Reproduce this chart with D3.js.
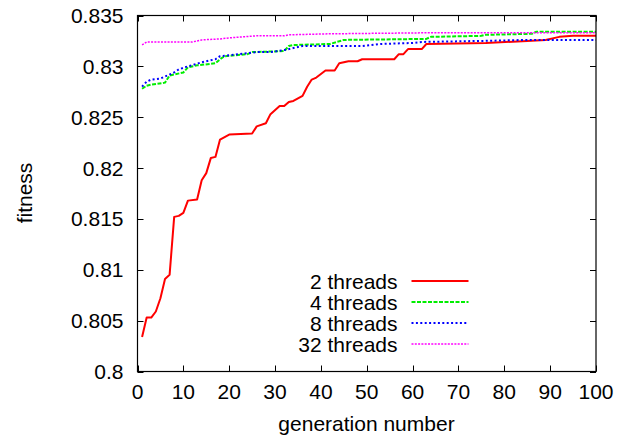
<!DOCTYPE html>
<html>
<head>
<meta charset="utf-8">
<script src="https://cdn.jsdelivr.net/npm/d3@7"></script>
<style>
body { margin: 0; background: #fff; }
svg text { font-family: "Liberation Sans", Arial, sans-serif; font-size: 21px; fill: #000; }
</style>
</head>
<body>
<svg width="620" height="442"></svg>
<script>
// [generation, fitness] breakpoints
var threads2 = [[1,0.8034],[2,0.8053],[3,0.8053],[4,0.8059],[5,0.8072],[6,0.8091],[7,0.8095],[8,0.8152],[9,0.8153],[10,0.8156],[11,0.8168],[13,0.8169],[14,0.8188],[15,0.8195],[16,0.8210],[17,0.8211],[18,0.8228],[20,0.8233],[25,0.8234],[26,0.8241],[28,0.8244],[29,0.8253],[31,0.8261],[32,0.8261],[33,0.8265],[34,0.8266],[36,0.8271],[37,0.8280],[38,0.8287],[39,0.8289],[41,0.8296],[43,0.8296],[44,0.8303],[46,0.8305],[48,0.8305],[49,0.8307],[56,0.8307],[57,0.8312],[58,0.8312],[59,0.8317],[62,0.8317],[63,0.8322],[76,0.8323],[85,0.8325],[89,0.8326],[92,0.8329],[95,0.8330],[100,0.8330]];
var threads4 = [[1,0.8278],[2,0.8281],[3,0.8282],[6,0.8284],[7,0.8291],[10,0.8294],[11,0.8299],[13,0.8301],[17,0.8303],[18,0.8307],[19,0.8310],[24,0.8312],[25,0.8314],[32,0.8315],[33,0.8320],[34,0.8321],[42,0.8322],[45,0.8326],[63,0.8327],[64,0.8329],[75,0.8330],[76,0.8331],[86,0.8332],[87,0.8334],[100,0.8334]];
var threads8 = [[1,0.8280],[2,0.8285],[3,0.8287],[5,0.8288],[8,0.8294],[9,0.8297],[11,0.8300],[14,0.8304],[17,0.8307],[18,0.8310],[22,0.8312],[26,0.8314],[29,0.8314],[32,0.8316],[34,0.8318],[36,0.8320],[49,0.8320],[53,0.8322],[60,0.8323],[62,0.8324],[75,0.8325],[85,0.8326],[100,0.8326]];
var threads32 = [[1,0.8321],[2,0.8324],[12,0.8324],[14,0.8326],[18,0.8327],[20,0.8328],[26,0.8330],[32,0.8330],[33,0.8331],[42,0.8332],[63,0.8333],[100,0.8333]];

var seriesNames = ["2 threads", "4 threads", "8 threads", "32 threads"];
var xTicks = [0, 10, 20, 30, 40, 50, 60, 70, 80, 90, 100];
var yTicks = [0.8, 0.805, 0.81, 0.815, 0.82, 0.825, 0.83, 0.835];

var styles = [
    { color: "#ff0000", dash: null, width: 2 },
    { color: "#00ee00", dash: "4,1.5", width: 2 },
    { color: "#0000ff", dash: "2,2.4", width: 2 },
    { color: "#ff00ff", dash: "2,1.3", width: 1.5 }
];

var plotLeft = 137.5, plotRight = 596, plotTop = 15.5, plotBottom = 371.5;
var svg = d3.select("svg");

var x = d3.scaleLinear().domain([0, 100]).range([plotLeft, plotRight]);
var y = d3.scaleLinear().domain([0.8, 0.835]).range([plotBottom, plotTop]);

// ticks, mirrored on all sides, pointing inward
var tickLen = 6;
var g = svg.append("g").attr("stroke", "#000").attr("stroke-width", 1);
xTicks.forEach(function (t) {
    var px = Math.round(x(t)) + 0.5;
    g.append("line").attr("x1", px).attr("x2", px).attr("y1", plotBottom).attr("y2", plotBottom - tickLen);
    g.append("line").attr("x1", px).attr("x2", px).attr("y1", plotTop).attr("y2", plotTop + tickLen);
});
yTicks.forEach(function (t) {
    var py = Math.round(y(t)) + 0.5;
    g.append("line").attr("x1", plotLeft).attr("x2", plotLeft + tickLen).attr("y1", py).attr("y2", py);
    g.append("line").attr("x1", plotRight).attr("x2", plotRight - tickLen).attr("y1", py).attr("y2", py);
});

svg.selectAll("text.xt").data(xTicks).enter().append("text")
    .attr("class", "xt")
    .attr("x", function (d) { return x(d); })
    .attr("y", 399)
    .attr("text-anchor", "middle")
    .text(function (d) { return d; });

svg.selectAll("text.yt").data(yTicks).enter().append("text")
    .attr("class", "yt")
    .attr("x", 123.5)
    .attr("y", function (d) { return y(d) + 7.5; })
    .attr("text-anchor", "end")
    .text(function (d) { return d3.format("")(+d.toFixed(3)); });

svg.append("text")
    .attr("x", 366.5).attr("y", 431)
    .attr("text-anchor", "middle")
    .text("generation number");

svg.append("text")
    .attr("transform", "translate(32,193) rotate(-90)")
    .attr("text-anchor", "middle")
    .text("fitness");

// series
var line = d3.line().x(function (d) { return x(d[0]); }).y(function (d) { return y(d[1]); });
var allSeries = [threads2, threads4, threads8, threads32];

svg.selectAll("path.series").data(allSeries).enter().append("path")
    .attr("class", "series")
    .attr("fill", "none")
    .attr("stroke", function (d, i) { return styles[i].color; })
    .attr("stroke-width", function (d, i) { return styles[i].width; })
    .attr("stroke-dasharray", function (d, i) { return styles[i].dash; })
    .attr("stroke-linejoin", "round")
    .attr("d", line);

// legend
var legendY = [281, 302, 323, 344];
var leg = svg.selectAll("g.leg").data(seriesNames).enter().append("g").attr("class", "leg");
leg.append("text")
    .attr("x", 397.5)
    .attr("y", function (d, i) { return legendY[i] + 7.5; })
    .attr("text-anchor", "end")
    .text(function (d) { return d; });
leg.append("line")
    .attr("x1", 411.5).attr("x2", 468.5)
    .attr("y1", function (d, i) { return legendY[i]; })
    .attr("y2", function (d, i) { return legendY[i]; })
    .attr("stroke", function (d, i) { return styles[i].color; })
    .attr("stroke-width", function (d, i) { return styles[i].width; })
    .attr("stroke-dasharray", function (d, i) { return styles[i].dash; });

// frame
svg.append("rect")
    .attr("x", plotLeft).attr("y", plotTop)
    .attr("width", plotRight - plotLeft).attr("height", plotBottom - plotTop)
    .attr("fill", "none").attr("stroke", "#000").attr("stroke-width", 1.2);
</script>
</body>
</html>
